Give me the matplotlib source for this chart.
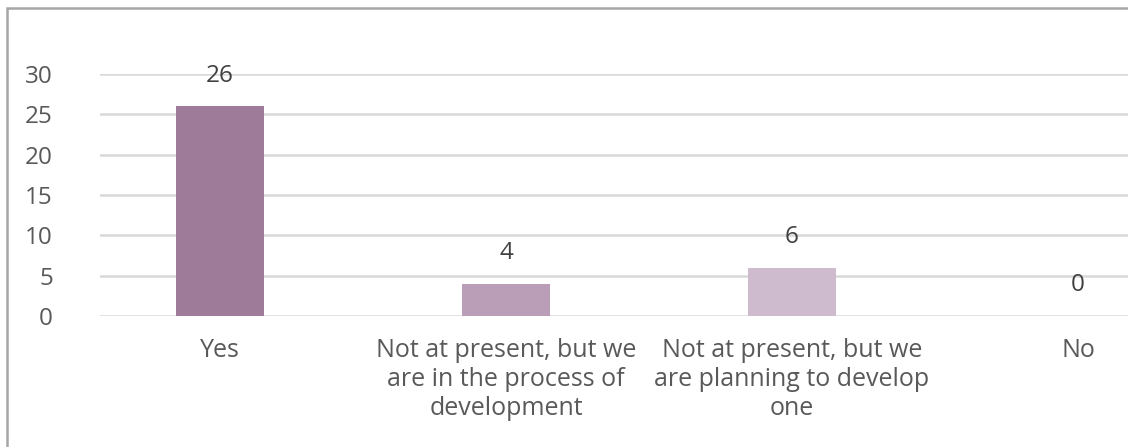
import matplotlib
matplotlib.use("Agg")
import matplotlib.pyplot as plt
from matplotlib.patches import Rectangle

categories = [
    "Yes",
    "Not at present, but we\nare in the process of\ndevelopment",
    "Not at present, but we\nare planning to develop\none",
    "No",
]
values = [26, 4, 6, 0]
bar_colors = ["#9e7b98", "#ba9db6", "#cfbbce", "#e0d4df"]

plt.rcParams["font.family"] = ["Open Sans", "DejaVu Sans"]

fig = plt.figure(figsize=(11.28, 4.47), dpi=100)
ax = fig.add_axes([100 / 1128, 1 - 316 / 447, 1 - 100 / 1128, (316 - 74) / 447])

x = list(range(len(values)))
bars = ax.bar(x, values, width=0.305, color=bar_colors, zorder=3)

ax.set_ylim(0, 30)
ax.set_xlim(-0.42, 3.175)
ax.set_yticks(range(0, 31, 5))
ax.yaxis.grid(True, color="#d9d9d9", linewidth=1.8, zorder=0)
ax.tick_params(axis="y", length=0, pad=34, labelsize=17.5, labelcolor="#595959")
ax.tick_params(axis="x", length=0, pad=16, labelsize=18, labelcolor="#595959")
ax.set_xticks(x)
ax.set_xticklabels(categories, linespacing=1.2)
for s in ax.spines.values():
    s.set_visible(False)

for xi, v in zip(x, values):
    ax.annotate(str(v), (xi, v), xytext=(0, 22), textcoords="offset points",
                ha="center", va="center", fontsize=17.5, color="#404040")

# outer chart border (cropped on the right and bottom)
fig.patches.append(Rectangle((7 / 1128, -0.1), 1.2, 1 - 8 / 447 + 0.1,
                             transform=fig.transFigure, fill=False,
                             edgecolor="#a6a6a6", linewidth=1.8))

fig.savefig("out.png", dpi=100)
